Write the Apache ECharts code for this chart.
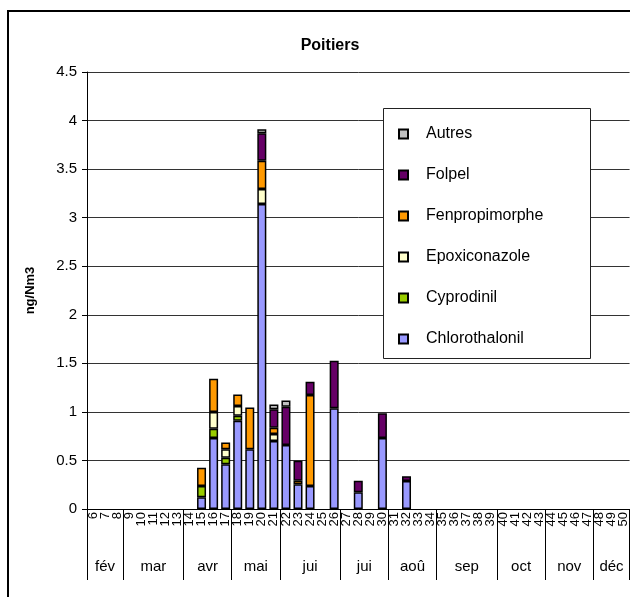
<!DOCTYPE html>
<html>
<head>
<meta charset="utf-8">
<title>Poitiers</title>
<script src="https://cdn.jsdelivr.net/npm/echarts@6/dist/echarts.min.js"></script>
<style>
  html, body { margin: 0; padding: 0; background: #fff; }
  #chart { width: 630px; height: 597px; }
</style>
</head>
<body>
<div id="chart"></div>
<script>
// Week numbers shown along the category axis
const weeks = [6,7,8,9,10,11,12,13,14,15,16,17,18,19,20,21,22,23,24,25,26,27,28,
  29,30,31,32,33,34,35,36,37,38,39,40,41,42,43,44,45,46,47,48,49,50];

// Months and the number of weeks each one covers on the axis
const months = ['fév','mar','avr','mai','jui','jui','aoû','sep','oct','nov','déc'];
const monthWeeks = [3,5,4,4,5,4,4,5,4,4,3];

// Sampled weeks and concentrations (ng/Nm3) per compound
const sampleWeeks    = [15, 16, 17, 18, 19, 20, 21, 22, 23, 24, 26, 28, 30, 32];
const chlorothalonil = [0.12, 0.73, 0.46, 0.91, 0.615, 3.14, 0.70, 0.66, 0.254, 0.237, 1.037, 0.172, 0.73, 0.288];
const cyprodinil     = [0.116, 0.097, 0.068, 0.05, 0, 0, 0, 0, 0, 0, 0, 0, 0, 0];
const epoxiconazole  = [0, 0.171, 0.086, 0.10, 0, 0.155, 0.072, 0, 0, 0, 0, 0, 0, 0];
const fenpropimorphe = [0.19, 0.344, 0.072, 0.12, 0.43, 0.29, 0.065, 0, 0.037, 0.937, 0, 0, 0, 0];
const folpel         = [0, 0, 0, 0, 0, 0.285, 0.19, 0.394, 0.206, 0.137, 0.49, 0.12, 0.257, 0.05];
const autres         = [0, 0, 0, 0, 0, 0.04, 0.05, 0.062, 0, 0, 0, 0, 0, 0];

const yTicks = { min: 0, max: 4.5, interval: 0.5 };

// Spread sampled values over the full week axis (empty weeks stay blank)
function fullWeeks(values) {
  return weeks.map(w => {
    const i = sampleWeeks.indexOf(w);
    return (i >= 0 && values[i] > 0) ? values[i] : '-';
  });
}

// Month boundaries and label positions in week units
const monthBounds = [0];
monthWeeks.forEach(n => monthBounds.push(monthBounds[monthBounds.length - 1] + n));
const monthMids = months.map((m, i) => (monthBounds[i] + monthBounds[i + 1]) / 2);

const FONT = '"Liberation Sans", Arial, sans-serif';

const seriesDefs = [
  { name: 'Chlorothalonil', values: chlorothalonil, color: '#9999FF' },
  { name: 'Cyprodinil',     values: cyprodinil,     color: '#99CC00' },
  { name: 'Epoxiconazole',  values: epoxiconazole,  color: '#FFFFCC' },
  { name: 'Fenpropimorphe', values: fenpropimorphe, color: '#FF9900' },
  { name: 'Folpel',         values: folpel,         color: '#660066' },
  { name: 'Autres',         values: autres,         color: '#C0C0C0' }
];

const chart = echarts.init(document.getElementById('chart'), null, { renderer: 'canvas' });

chart.setOption({
  animation: false,
  backgroundColor: '#fff',
  title: {
    text: 'Poitiers',
    left: 325, top: 33,
    textAlign: 'center',
    textStyle: { fontFamily: FONT, fontSize: 16, fontWeight: 'bold', color: '#000' }
  },
  graphic: [
    { type: 'rect', z: 0, silent: true,
      shape: { x: 8, y: 11, width: 700, height: 700 },
      style: { fill: 'none', stroke: '#000', lineWidth: 2 } },
    { type: 'rect', z: 3, silent: true,
      shape: { x: 383.5, y: 108.5, width: 207, height: 250 },
      style: { fill: '#fff', stroke: '#222', lineWidth: 1 } }
  ],
  legend: {
    orient: 'vertical',
    left: 393, top: 121,
    z: 5,
    itemGap: 25,
    itemWidth: 9, itemHeight: 9,
    icon: 'rect',
    data: ['Autres', 'Folpel', 'Fenpropimorphe', 'Epoxiconazole', 'Cyprodinil', 'Chlorothalonil'],
    textStyle: { fontFamily: FONT, fontSize: 16, color: '#000', lineHeight: 16, padding: [0, 0, 0, 13] }
  },
  grid: { left: 87, top: 72, width: 546, height: 437, containLabel: false },
  xAxis: [
    {
      type: 'category',
      data: weeks.map(String),
      boundaryGap: true,
      axisLine: { show: true, lineStyle: { color: '#000', width: 1 } },
      axisTick: { show: false },
      axisLabel: { interval: 0, rotate: 90, margin: 3, fontFamily: FONT, fontSize: 13, color: '#000' },
      splitLine: { show: false }
    },
    {
      type: 'value',
      position: 'bottom',
      min: 0, max: monthBounds[monthBounds.length - 1],
      axisLine: { show: false },
      splitLine: { show: false },
      axisTick: { show: true, customValues: monthBounds, length: 71, lineStyle: { color: '#000', width: 1 } },
      axisLabel: {
        customValues: monthMids,
        margin: 50,
        fontFamily: FONT, fontSize: 15, color: '#000',
        formatter: v => months[monthMids.indexOf(v)]
      }
    }
  ],
  yAxis: {
    type: 'value',
    min: yTicks.min, max: yTicks.max, interval: yTicks.interval,
    name: 'ng/Nm3',
    nameLocation: 'middle',
    nameGap: 50,
    nameTextStyle: { fontFamily: FONT, fontSize: 13, fontWeight: 'bold', color: '#000' },
    axisLine: { show: true, lineStyle: { color: '#000', width: 1 } },
    axisTick: { show: true, length: 5, lineStyle: { color: '#000' } },
    axisLabel: { margin: 10, fontFamily: FONT, fontSize: 15, color: '#000' },
    splitLine: { show: true, lineStyle: { color: '#333', width: 1 } }
  },
  series: seriesDefs.map(s => ({
    name: s.name,
    type: 'bar',
    stack: 'total',
    xAxisIndex: 0,
    barWidth: 9,
    data: fullWeeks(s.values),
    itemStyle: { color: s.color, borderColor: '#000', borderWidth: 1.5 }
  }))
});
</script>
</body>
</html>
